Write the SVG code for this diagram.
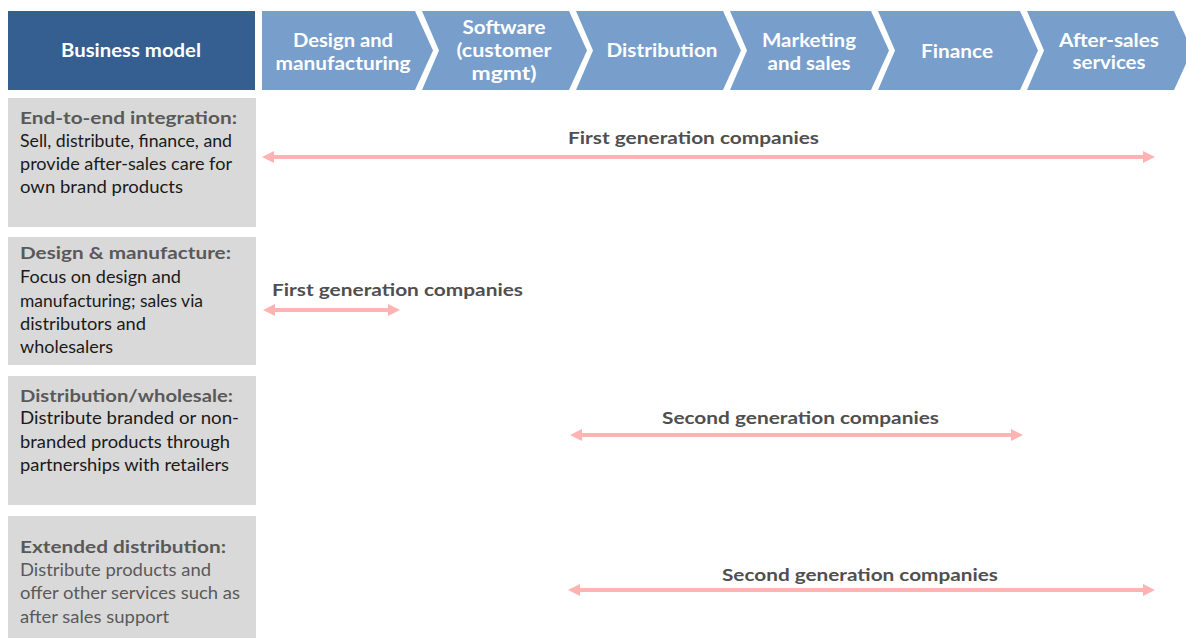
<svg xmlns="http://www.w3.org/2000/svg" width="1186" height="638" viewBox="0 0 1186 638">
<style>
.hdr{font-family:Lato,"Liberation Sans",sans-serif;font-weight:bold;font-size:18px;fill:#ffffff;text-anchor:middle}
.ttl{font-family:Lato,"Liberation Sans",sans-serif;font-weight:bold;font-size:17px;fill:#595959}
.bdy{font-family:Lato,"Liberation Sans",sans-serif;font-size:17px;fill:#1a1a1a}
.bdy2{font-family:Lato,"Liberation Sans",sans-serif;font-size:17px;fill:#595959}
.lbl{font-family:Lato,"Liberation Sans",sans-serif;font-weight:bold;font-size:17px;fill:#4f4f4f}
.chev{fill:#789ecc}
.box{fill:#d9d9d9}
.arr{stroke:#ffb3b3;stroke-width:4;fill:none;marker-start:url(#ah);marker-end:url(#ah)}
</style>
<defs>
<marker id="ah" viewBox="0 0 12 12" markerWidth="12" markerHeight="12" markerUnits="userSpaceOnUse" refX="2" refY="6" orient="auto-start-reverse">
<path d="M0,0 L12,6 L0,12 z" fill="#ffb3b3"/>
</marker>
</defs>
<rect width="1186" height="638" fill="#ffffff"/>

<g id="header-business-model">
<rect x="8" y="11" width="247" height="79" fill="#365f91"/>
<text class="hdr" x="131" y="57" textLength="140" lengthAdjust="spacingAndGlyphs">Business model</text>
</g>
<g id="step-design">
<polygon class="chev" points="262,11 415,11 433,50.5 415,90 262,90"/>
<text class="hdr" x="343" y="46.5" textLength="100" lengthAdjust="spacingAndGlyphs">Design and</text>
<text class="hdr" x="343" y="69.5" textLength="135" lengthAdjust="spacingAndGlyphs">manufacturing</text>
</g>
<g id="step-software">
<polygon class="chev" points="422,11 569,11 587,50.5 569,90 422,90 439,50.5"/>
<text class="hdr" x="504" y="34" textLength="83" lengthAdjust="spacingAndGlyphs">Software</text>
<text class="hdr" x="504" y="57" textLength="95" lengthAdjust="spacingAndGlyphs">(customer</text>
<text class="hdr" x="504" y="80" textLength="65" lengthAdjust="spacingAndGlyphs">mgmt)</text>
</g>
<g id="step-distribution">
<polygon class="chev" points="576,11 723,11 741,50.5 723,90 576,90 593,50.5"/>
<text class="hdr" x="662" y="56.5" textLength="111" lengthAdjust="spacingAndGlyphs">Distribution</text>
</g>
<g id="step-marketing">
<polygon class="chev" points="730,11 871,11 889,50.5 871,90 730,90 747,50.5"/>
<text class="hdr" x="809" y="46.5" textLength="94" lengthAdjust="spacingAndGlyphs">Marketing</text>
<text class="hdr" x="809" y="69.5" textLength="83" lengthAdjust="spacingAndGlyphs">and sales</text>
</g>
<g id="step-finance">
<polygon class="chev" points="878,11 1020,11 1038,50.5 1020,90 878,90 895,50.5"/>
<text class="hdr" x="957" y="57.5" textLength="72" lengthAdjust="spacingAndGlyphs">Finance</text>
</g>
<g id="step-aftersales">
<polygon class="chev" points="1027,11 1174,11 1192,50.5 1174,90 1027,90 1044,50.5"/>
<text class="hdr" x="1109" y="46.5" textLength="100" lengthAdjust="spacingAndGlyphs">After-sales</text>
<text class="hdr" x="1109" y="68.5" textLength="73" lengthAdjust="spacingAndGlyphs">services</text>
</g>

<g id="row-end-to-end">
<rect class="box" x="8" y="98" width="248" height="129"/>
<text class="ttl" x="20" y="124" textLength="217" lengthAdjust="spacingAndGlyphs">End-to-end integration:</text>
<text class="bdy" x="20" y="147" textLength="212" lengthAdjust="spacingAndGlyphs">Sell, distribute, finance, and</text>
<text class="bdy" x="20" y="170" textLength="212" lengthAdjust="spacingAndGlyphs">provide after-sales care for</text>
<text class="bdy" x="20" y="193" textLength="163" lengthAdjust="spacingAndGlyphs">own brand products</text>
</g>
<g id="row-design-manufacture">
<rect class="box" x="8" y="237" width="248" height="128"/>
<text class="ttl" x="20" y="259" textLength="211" lengthAdjust="spacingAndGlyphs">Design &amp; manufacture:</text>
<text class="bdy" x="20" y="283" textLength="161" lengthAdjust="spacingAndGlyphs">Focus on design and</text>
<text class="bdy" x="20" y="307" textLength="183" lengthAdjust="spacingAndGlyphs">manufacturing; sales via</text>
<text class="bdy" x="20" y="330" textLength="126" lengthAdjust="spacingAndGlyphs">distributors and</text>
<text class="bdy" x="20" y="353" textLength="93" lengthAdjust="spacingAndGlyphs">wholesalers</text>
</g>
<g id="row-distribution-wholesale">
<rect class="box" x="8" y="376" width="248" height="129"/>
<text class="ttl" x="20" y="402" textLength="213" lengthAdjust="spacingAndGlyphs">Distribution/wholesale:</text>
<text class="bdy" x="20" y="424" textLength="219" lengthAdjust="spacingAndGlyphs">Distribute branded or non-</text>
<text class="bdy" x="20" y="448" textLength="210" lengthAdjust="spacingAndGlyphs">branded products through</text>
<text class="bdy" x="20" y="471" textLength="209" lengthAdjust="spacingAndGlyphs">partnerships with retailers</text>
</g>
<g id="row-extended-distribution">
<rect class="box" x="8" y="516" width="248" height="122"/>
<text class="ttl" x="20" y="553" textLength="206" lengthAdjust="spacingAndGlyphs">Extended distribution:</text>
<text class="bdy2" x="20" y="576" textLength="191" lengthAdjust="spacingAndGlyphs">Distribute products and</text>
<text class="bdy2" x="20" y="599" textLength="220" lengthAdjust="spacingAndGlyphs">offer other services such as</text>
<text class="bdy2" x="20" y="623" textLength="149" lengthAdjust="spacingAndGlyphs">after sales support</text>
</g>

<g id="connectors">
<line class="arr" x1="272" y1="157" x2="1145" y2="157"/>
<line class="arr" x1="273" y1="310" x2="390" y2="310"/>
<line class="arr" x1="580" y1="435" x2="1013" y2="435"/>
<line class="arr" x1="578" y1="590" x2="1145" y2="590"/>
<text class="lbl" x="568" y="144" textLength="251" lengthAdjust="spacingAndGlyphs">First generation companies</text>
<text class="lbl" x="272" y="296" textLength="251" lengthAdjust="spacingAndGlyphs">First generation companies</text>
<text class="lbl" x="662" y="424" textLength="277" lengthAdjust="spacingAndGlyphs">Second generation companies</text>
<text class="lbl" x="722" y="581" textLength="276" lengthAdjust="spacingAndGlyphs">Second generation companies</text>
</g>
</svg>
